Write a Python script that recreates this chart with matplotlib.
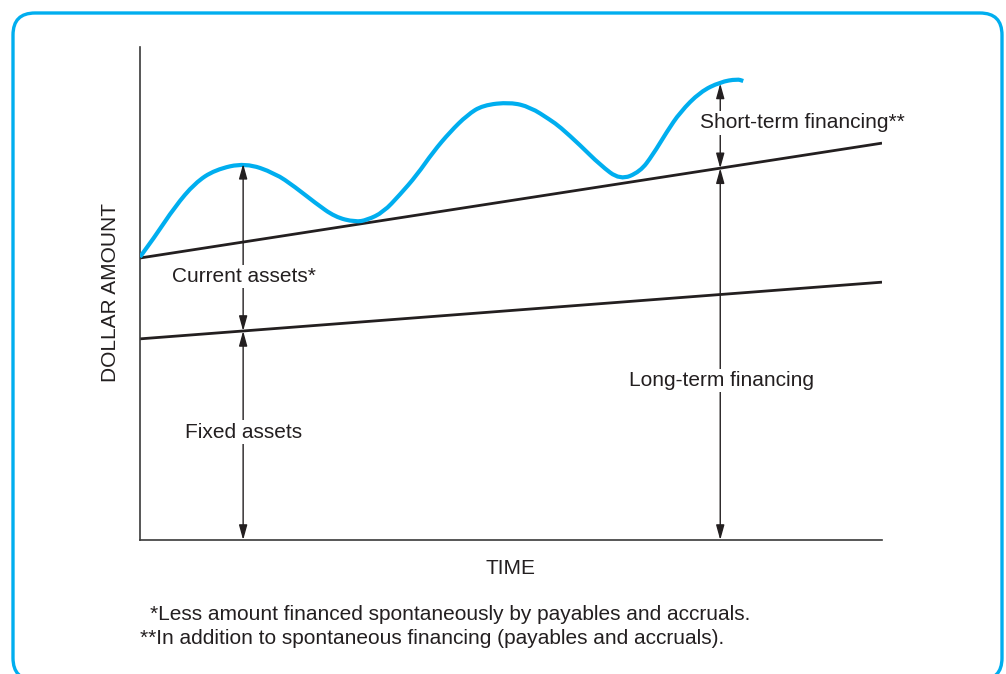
"""Current vs. fixed assets and how they are financed (schematic)."""

import matplotlib
matplotlib.use("Agg")
import matplotlib.pyplot as plt
from matplotlib.patches import FancyBboxPatch, PathPatch
from matplotlib.path import Path
from matplotlib.transforms import IdentityTransform

plt.rcParams["font.family"] = ["Liberation Sans", "DejaVu Sans"]

INK = "#231f20"
BLUE = "#00aeef"

# time runs 0..100, dollar amount 0..100
time_ends = [0, 100]
permanent_current = [57.2, 80.5]   # top of permanent current assets
fixed_assets = [40.8, 52.3]        # top of fixed assets

curve_t = [0, 2.0, 4.7, 7.4, 10.1, 14.2, 18.2, 20.9, 23.6, 26.3, 29.0, 30.6,
           32.8, 35.0, 37.3, 39.5, 41.8, 44.1, 46.2, 49.9, 52.6, 55.3, 56.6,
           59.3, 62.0, 64.7, 67.4, 69.1, 71.0, 72.8, 75.5, 78.2, 80.5, 81.3]
curve_y = [57.4, 61.5, 67.6, 72.4, 75.1, 76.5, 74.4, 71.6, 68.4, 65.5, 64.5, 64.9,
           66.5, 70.0, 74.0, 78.7, 82.8, 86.2, 88.2, 88.8, 87.8, 85.2, 83.8,
           80.1, 76.1, 73.0, 74.7, 78.1, 82.8, 86.8, 90.9, 92.9, 93.5, 93.1]

# vertical dimension arrows: (time, low, high)
arrows = [
    (13.9, 42.4, 76.3),   # current assets
    (13.9, 0.0, 42.4),    # fixed assets
    (78.2, 75.4, 92.6),   # short-term financing
    (78.2, 0.0, 75.4),    # long-term financing
]
labels = [
    ("Current assets*", 14.0, 53.4),
    ("Fixed assets", 14.0, 21.9),
    ("Short-term financing**", 89.3, 84.6),
    ("Long-term financing", 78.4, 32.3),
]
footnotes = [
    "*Less amount financed spontaneously by payables and accruals.",
    "**In addition to spontaneous financing (payables and accruals).",
]

W, H = 1006, 674
FS = 15
fig = plt.figure(figsize=(W / 100, H / 100), dpi=100)

# rounded frame around the whole exhibit (pixel coords)
frame = FancyBboxPatch((13, -6), 989, 667, boxstyle="round,pad=0,rounding_size=22",
                       transform=IdentityTransform(), facecolor="none",
                       edgecolor=BLUE, linewidth=2.4)
fig.patches.append(frame)

ax = fig.add_axes([140 / W, 134 / H, 742 / W, 493 / H])
ax.set_xlim(0, 100)
ax.set_ylim(0, 100)
for s in ["top", "right"]:
    ax.spines[s].set_visible(False)
for s in ["left", "bottom"]:
    ax.spines[s].set_color("#3a3a3a")
    ax.spines[s].set_linewidth(1.2)
ax.set_xticks([])
ax.set_yticks([])

ax.plot(time_ends, permanent_current, color=INK, lw=2.0, solid_capstyle="butt")
ax.plot(time_ends, fixed_assets, color=INK, lw=2.0, solid_capstyle="butt")

# smooth the read-off points with quadratic segments through the midpoints
pts = list(zip(curve_t, curve_y))
verts, codes = [pts[0]], [Path.MOVETO]
for i in range(1, len(pts) - 1):
    mid = ((pts[i][0] + pts[i + 1][0]) / 2, (pts[i][1] + pts[i + 1][1]) / 2)
    verts += [pts[i], mid]
    codes += [Path.CURVE3, Path.CURVE3]
verts.append(pts[-1])
codes.append(Path.LINETO)
ax.add_patch(PathPatch(Path(verts, codes), facecolor="none", edgecolor=BLUE,
                       lw=3.0, capstyle="butt", zorder=3))

for t, lo, hi in arrows:
    ax.annotate("", xy=(t, hi), xytext=(t, lo),
                arrowprops=dict(arrowstyle="<|-|>,head_length=0.9,head_width=0.25",
                                color=INK, lw=1.0, shrinkA=0, shrinkB=0,
                                mutation_scale=10))

for txt, t, y in labels:
    ax.text(t, y, txt, ha="center", va="center", fontsize=FS, color=INK,
            bbox=dict(facecolor="white", edgecolor="none", pad=1.5), zorder=4)

fig.text(510 / W, 1 - 569 / H, "TIME", ha="center", va="center",
         fontsize=FS, color=INK)
fig.text(110 / W, 1 - 293 / H, "DOLLAR AMOUNT", ha="center", va="center",
         rotation=90, fontsize=FS, color=INK)
fig.text(150 / W, 1 - 615 / H, footnotes[0], ha="left", va="center",
         fontsize=FS, color=INK)
fig.text(140 / W, 1 - 639 / H, footnotes[1], ha="left", va="center",
         fontsize=FS, color=INK)

fig.savefig("out.png", dpi=100)
